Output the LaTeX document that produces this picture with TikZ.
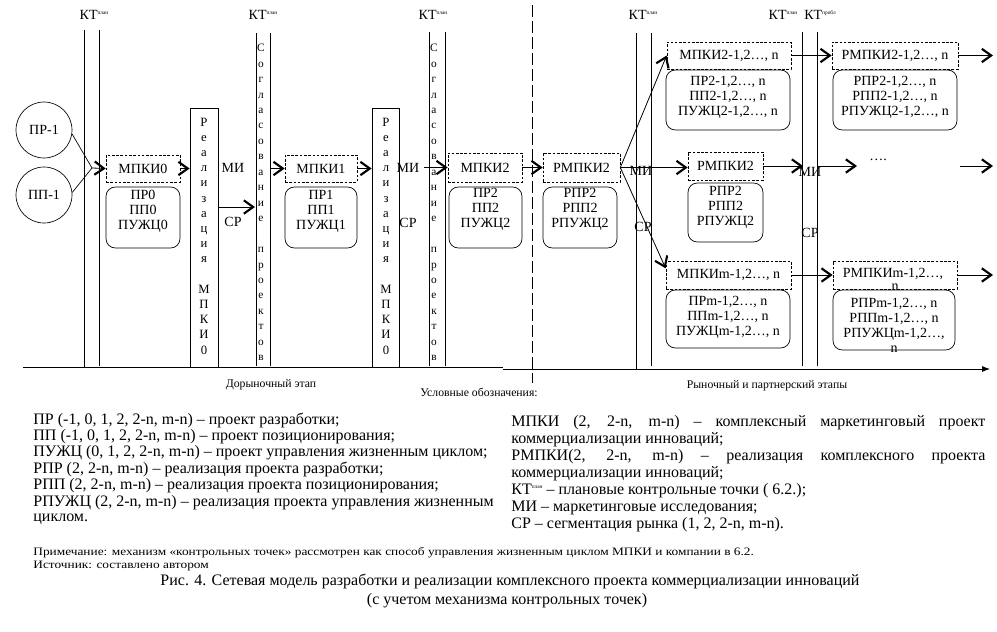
\documentclass[tikz,border=0pt]{standalone}
\usepackage{fontspec}
\setmainfont{Liberation Serif}
\usetikzlibrary{arrows.meta}
\newcommand\ktlab[1]{КТ\raisebox{0.85ex}{\fontsize{4}{4}\selectfont #1}}
\begin{document}
\begin{tikzpicture}[x=0.75pt,y=-0.75pt,line width=0.6pt,
  dtxt/.style={font=\fontsize{10.5}{11.5}\selectfont, inner sep=0pt},
  btxt/.style={font=\fontsize{10.5}{11.25}\selectfont, inner sep=0pt, align=center},
  dbox/.style={draw, dash pattern=on 2pt off 1.2pt, line width=0.5pt, inner sep=0pt, font=\fontsize{10.5}{11.5}\selectfont},
  rbox/.style={draw, rounded corners=7pt, line width=0.5pt, inner sep=0pt},
  chev/.style={-{Straight Barb[length=7pt,width=10pt,line width=1.6pt]}},
  vcolR/.style={font=\fontsize{9.5}{11.4}\selectfont, align=center, inner sep=0pt},
  vcolS/.style={font=\fontsize{8.5}{11.59}\selectfont, align=center, inner sep=0pt},
  ktl/.style={font=\fontsize{10.5}{11.5}\selectfont, inner sep=0pt},
  stage/.style={font=\fontsize{8.8}{10}\selectfont, inner sep=0pt},
  leg/.style={font=\fontsize{12}{13}\selectfont, inner sep=0pt, anchor=west},
  note/.style={font=\fontsize{10}{11}\selectfont, inner sep=0pt, anchor=west},
  capt/.style={font=\fontsize{12}{13}\selectfont, inner sep=0pt}
]
\useasboundingbox (0,0) rectangle (997,632);

% KT labels
\node[ktl] (kt1) at (94,15) {\ktlab{план}};
\node[ktl] (kt2) at (263,15) {\ktlab{план}};
\node[ktl] (kt3) at (433,15) {\ktlab{план}};
\node[ktl] (kt4) at (643,15) {\ktlab{план}};
\node[ktl] (kt5) at (783,15) {\ktlab{план}};
\node[ktl] (kt6) at (820,15) {\ktlab{пробл}};

% vertical pairs
\draw (84,30) -- (84,367);
\draw (99,30) -- (99,366);
\draw (256,33) -- (256,366);
\draw (270,33) -- (270,366);
\draw (429,32) -- (429,366);
\draw (445,32) -- (445,366);
\draw (636,33) -- (636,369);
\draw (651,33) -- (651,366);
\draw (802,32) -- (802,366);
\draw (817,32) -- (817,366);

% dashed divider
\draw[dash pattern=on 9pt off 3pt] (532,5) -- (532,383);

% baseline
\draw (23,367) -- (503,367);
\draw[-{Latex[length=6pt,width=4.5pt]}] (503,369) -- (990,369);

% realisation boxes
\node[draw, line width=0.6pt, minimum width=21pt, minimum height=194.25pt, inner sep=0pt] (real1) at (204,237.5) {};
\node[draw, line width=0.6pt, minimum width=20.25pt, minimum height=194.25pt, inner sep=0pt] (real2) at (385.5,237.5) {};
\node[vcolR] (rl1) at (204,236) {Р\\е\\а\\л\\и\\з\\а\\ц\\и\\я\\~\\М\\П\\К\\И\\0};
\node[vcolR] (rl2) at (386,236) {Р\\е\\а\\л\\и\\з\\а\\ц\\и\\я\\~\\М\\П\\К\\И\\0};
\node[vcolS] (sl1) at (261,202.5) {С\\о\\г\\л\\а\\с\\о\\в\\а\\н\\и\\е\\~\\п\\р\\о\\е\\к\\т\\о\\в};
\node[vcolS] (sl2) at (434,202.5) {С\\о\\г\\л\\а\\с\\о\\в\\а\\н\\и\\е\\~\\п\\р\\о\\е\\к\\т\\о\\в};

% circles
\node[draw, circle, minimum size=42pt, inner sep=0pt, line width=0.5pt, dtxt] (c1) at (44,130) {ПР-1};
\node[draw, circle, minimum size=42pt, inner sep=0pt, line width=0.5pt, dtxt] (c2) at (44,195) {ПП-1};

% project boxes
\node[dbox, minimum width=55.5pt, minimum height=20.25pt] (m0) at (143,168.5) {МПКИ0};
\node[rbox, minimum width=55.5pt, minimum height=45.75pt] (r0) at (143,217.5) {};
\node[btxt] (t0) at (143,211) {ПР0\\ПП0\\ПУЖЦ0};

\node[dbox, minimum width=54pt, minimum height=20.25pt] (m1) at (321,168.5) {МПКИ1};
\node[rbox, minimum width=54pt, minimum height=45.75pt] (r1) at (321,217.5) {};
\node[btxt] (t1) at (321,211) {ПР1\\ПП1\\ПУЖЦ1};

\node[dbox, minimum width=55.5pt, minimum height=21.75pt] (m2) at (485,167.5) {МПКИ2};
\node[rbox, minimum width=54.75pt, minimum height=45.75pt] (r2) at (485.5,217.5) {};
\node[btxt] (t2) at (485.5,209) {ПР2\\ПП2\\ПУЖЦ2};

\node[dbox, minimum width=57.75pt, minimum height=21.75pt] (rm2) at (581.5,167.5) {РМПКИ2};
\node[rbox, minimum width=55.5pt, minimum height=45.75pt] (rr2) at (580,217.5) {};
\node[btxt] (tr2) at (580,209) {РПР2\\РПП2\\РПУЖЦ2};

\node[dbox, minimum width=93pt, minimum height=20.25pt] (a1) at (729,55.5) {МПКИ2-1,2…, n};
\node[rbox, minimum width=93pt, minimum height=45pt] (ar1) at (728,100) {};
\node[btxt] (ta1) at (728,97.5) {ПР2-1,2…, n\\ПП2-1,2…, n\\ПУЖЦ2-1,2…, n};

\node[dbox, minimum width=94.5pt, minimum height=20.25pt] (b1) at (895,55.5) {РМПКИ2-1,2…, n};
\node[rbox, minimum width=93pt, minimum height=45pt] (br1) at (895,100) {};
\node[btxt] (tb1) at (895,97.5) {РПР2-1,2…, n\\РПП2-1,2…, n\\РПУЖЦ2-1,2…, n};

\node[dbox, minimum width=56.25pt, minimum height=21pt] (a2) at (725.5,166) {РМПКИ2};
\node[rbox, minimum width=56.25pt, minimum height=44.25pt] (ar2) at (725.5,212.5) {};
\node[btxt] (ta2) at (725.5,207.5) {РПР2\\РПП2\\РПУЖЦ2};

\node[dbox, minimum width=93.75pt, minimum height=21pt] (a3) at (728.5,275) {МПКИm-1,2…, n};
\node[rbox, minimum width=93pt, minimum height=43.5pt] (ar3) at (728,319) {};
\node[btxt] (ta3) at (728,317.5) {ПРm-1,2…, n\\ППm-1,2…, n\\ПУЖЦm-1,2…, n};

\node[dbox, minimum width=93pt, minimum height=21pt] (b3) at (895,275) {};
\node[dtxt] (tb3a) at (893,274) {РМПКИm-1,2…,};
\node[dtxt] (tb3b) at (895,287) {n};
\node[rbox, minimum width=91.5pt, minimum height=45pt] (br3) at (894,320) {};
\node[btxt] (tb3) at (894,325.5) {РПРm-1,2…, n\\РППm-1,2…, n\\РПУЖЦm-1,2…,\\n};

% labels MI / SR
\node[dtxt] (mi1) at (233,168) {МИ};
\node[dtxt] (sr1) at (233,222) {СР};
\node[dtxt] (mi2) at (408,168) {МИ};
\node[dtxt] (sr2) at (408,223) {СР};
\node[dtxt] (mi3) at (641,171) {МИ};
\node[dtxt] (sr3) at (643,227) {СР};
\node[dtxt] (mi4) at (810,172) {МИ};
\node[dtxt] (sr4) at (810,233) {СР};
\node[dtxt] (dots) at (878,160) {….};

% connectors
\coordinate (j0) at (92,168);
\draw[line width=0.5pt] (c1.-8) -- (j0);
\draw[line width=0.5pt] (c2.5) -- (j0);
\draw[chev] (j0) -- (m0.west);
\draw[chev] (m0.east) -- (m0.east -| real1.west);
\coordinate (e1) at (255,207);
\draw[chev] (e1 -| real1.east) -- (e1);
\coordinate (k2) at (270,168.5);
\draw[chev] (k2) -- (m1.west);
\draw[chev] (m1.east) -- (m1.east -| real2.west);
\coordinate (k4) at (424,167.5);
\draw[chev] (k4) -- (m2.west);
\draw[chev] (m2.east) -- (rm2.west);
\draw[chev] (rm2.east) -- (a1.west);
\draw[chev] (rm2.east) -- (rm2.east -| a2.west);
\draw[chev] (rm2.east) -- ([yshift=5pt]a3.west);
\draw[chev] (a1.east) -- (b1.west);
\coordinate (o1) at (993,55.5);
\draw[chev] (b1.east) -- (o1);
\coordinate (k6) at (803,166);
\draw[chev] (a2.east) -- (k6);
\coordinate (k6b) at (818,166);
\coordinate (d1) at (857,166);
\draw[chev] (k6b) -- (d1);
\coordinate (d2) at (960,166);
\coordinate (d3) at (993,166);
\draw[chev] (d2) -- (d3);
\draw[chev] (a3.east) -- (b3.west);
\coordinate (o3) at (993,275);
\draw[chev] (b3.east) -- (o3);

% stage labels
\node[stage] (st1) at (271,385) {Дорыночный этап};
\node[stage] (st2) at (479,392) {Условные обозначения:};
\node[stage] (st3) at (767,386) {Рыночный и партнерский этапы};

% legend left
\node[leg] (l1) at (33,420) {ПР (-1, 0, 1, 2, 2-n, m-n) – проект разработки;};
\node[leg] (l2) at (33,436.5) {ПП (-1, 0, 1, 2, 2-n, m-n) – проект позиционирования;};
\node[leg] (l3) at (33,453) {ПУЖЦ (0, 1, 2, 2-n, m-n) – проект управления жизненным циклом;};
\node[leg] (l4) at (33,469.5) {РПР (2, 2-n, m-n) – реализация проекта разработки;};
\node[leg] (l5) at (33,486) {РПП (2, 2-n, m-n) – реализация проекта позиционирования;};
\node[leg] (l6) at (33,502.5) {РПУЖЦ (2, 2-n, m-n) – реализация проекта управления жизненным};
\node[leg] (l7) at (33,519) {циклом.};

% legend right
\node[leg] (q1) at (511,423) {\makebox[355.5pt][s]{МПКИ (2, 2-n, m-n) – комплексный маркетинговый проект}};
\node[leg] (q2) at (511,440) {коммерциализации инноваций;};
\node[leg] (q3) at (511,457) {\makebox[355.5pt][s]{РМПКИ(2, 2-n, m-n) – реализация комплексного проекта}};
\node[leg] (q4) at (511,474) {коммерциализации инноваций;};
\node[leg] (q5) at (511,491) {\ktlab{план} – плановые контрольные точки ( 6.2.);};
\node[leg] (q6) at (511,508) {МИ – маркетинговые исследования;};
\node[leg] (q7) at (511,525) {СР – сегментация рынка (1, 2, 2-n, m-n).};

% notes and caption
\node[note] (n1) at (33,553) {\scalebox{1}[0.85]{Примечание: механизм «контрольных точек» рассмотрен как способ управления жизненным циклом МПКИ и компании в 6.2.}};
\node[note] (n2) at (33,566) {\scalebox{1}[0.85]{Источник: составлено автором}};
\node[capt] (cap1) at (510,581) {Рис. 4. Сетевая модель разработки и реализации комплексного проекта коммерциализации инноваций};
\node[capt] (cap2) at (507,601) {(с учетом механизма контрольных точек)};
\end{tikzpicture}
\end{document}
